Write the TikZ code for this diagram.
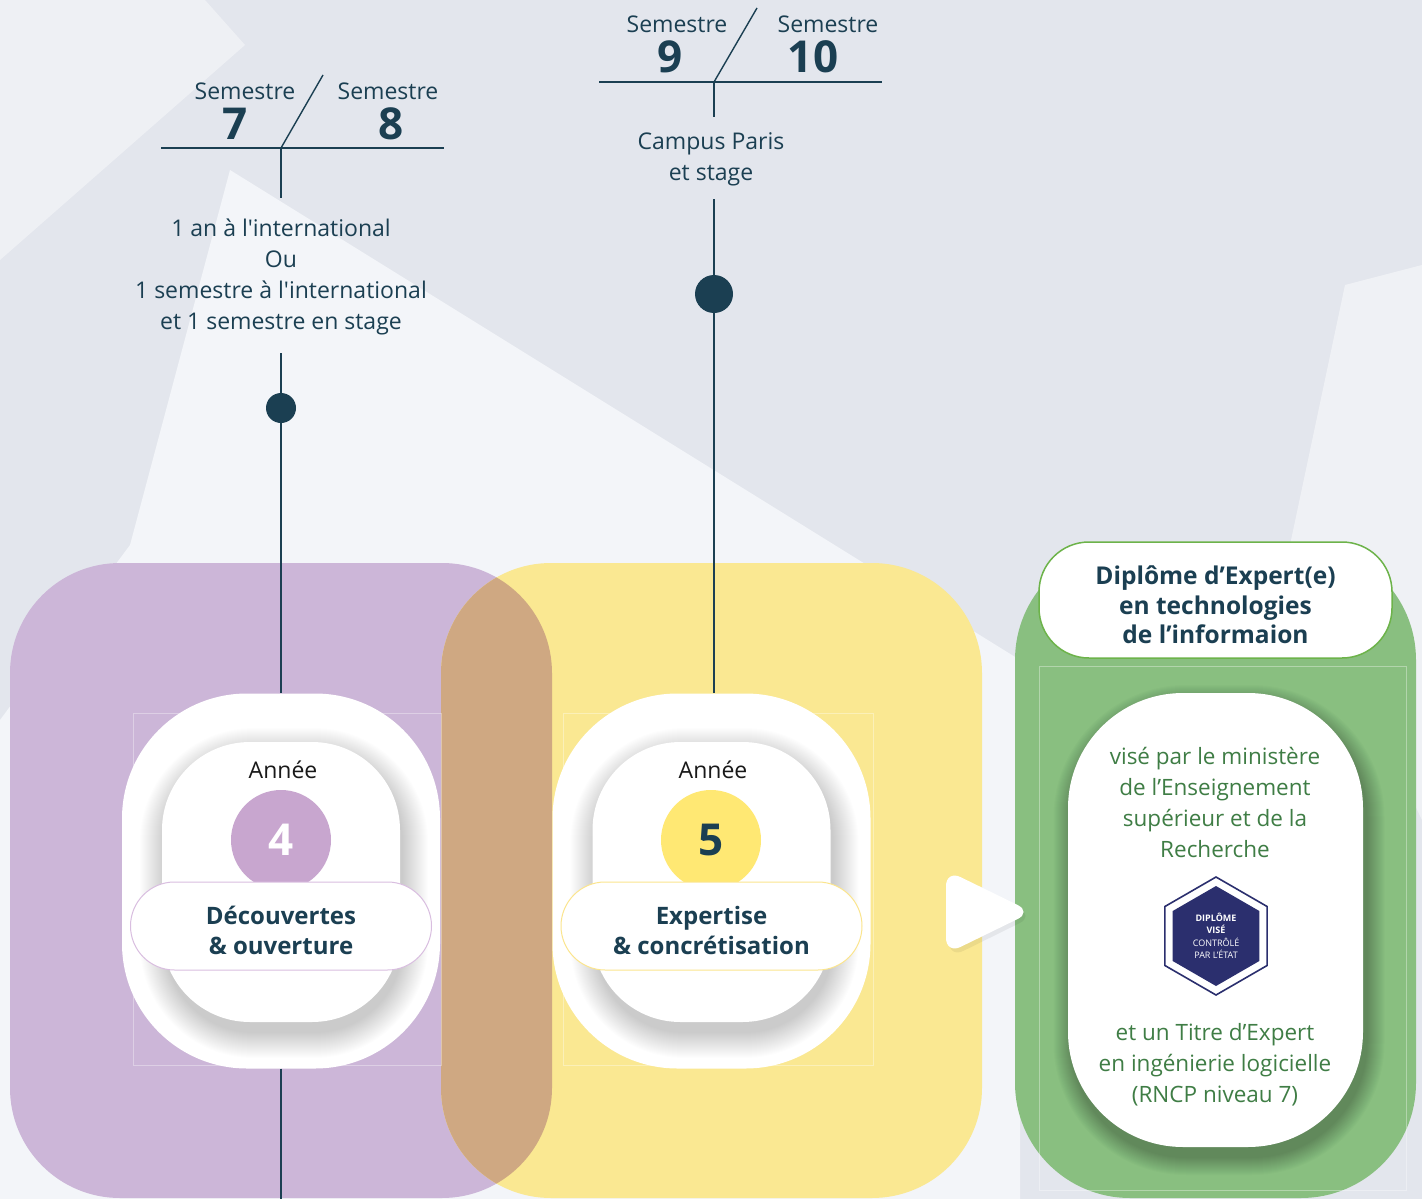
\documentclass[tikz,border=0pt]{standalone}
\usepackage{fontspec}
\setmainfont{Open Sans}[Ligatures=TeXOff]
\usetikzlibrary{positioning,shapes.geometric}
\definecolor{ink}{HTML}{1B3F52}
\definecolor{bgbase}{HTML}{E3E6ED}
\definecolor{bglight}{HTML}{F3F5F9}
\definecolor{purp}{HTML}{CCB6D8}
\definecolor{purpdot}{HTML}{C8A6CF}
\definecolor{purpline}{HTML}{D9BEE0}
\definecolor{yel}{HTML}{FAE892}
\definecolor{yeldot}{HTML}{FFE873}
\definecolor{yelline}{HTML}{FBE58E}
\definecolor{mix}{HTML}{CFA882}
\definecolor{grn}{HTML}{89BF80}
\definecolor{grnline}{HTML}{6DB34A}
\definecolor{grntext}{HTML}{3F7D45}
\definecolor{navy}{HTML}{2B2F6E}
\begin{document}
\begin{tikzpicture}[x=1pt,y=-1pt,
  rule/.style={draw=ink,line width=2pt},
  card/.style={fill=white,rounded corners=125pt,minimum width=318pt,minimum height=375pt,inner sep=0pt},
  innercard/.style={fill=white,rounded corners=88pt,minimum width=238pt,minimum height=280pt,inner sep=0pt},
  yearnum/.style={circle,minimum size=100pt,inner sep=0pt,font=\fontsize{44}{44}\selectfont\bfseries},
  pill/.style={fill=white,rounded corners=44pt,minimum width=301pt,minimum height=88pt,line width=1pt},
  pilltext/.style={align=center,text=ink,font=\fontsize{24}{30}\selectfont\bfseries},
  annee/.style={text=black!90,font=\fontsize{23}{23}\selectfont},
  sem/.style={text=ink,font=\fontsize{23}{23}\selectfont},
  semnum/.style={text=ink,font=\fontsize{44}{44}\selectfont\bfseries},
  info/.style={text=ink,align=center,font=\fontsize{23}{31}\selectfont},
  dot/.style={circle,fill=ink,inner sep=0pt},
  greentext/.style={text=grntext,align=center,font=\fontsize{22.5}{31}\selectfont},
  faint/.style={draw=white,opacity=.35,line width=.8pt}]

% background
\fill[bgbase] (0,0) rectangle (1422,1199);
\fill[white,opacity=.4] (0,0) -- (205,0) -- (245,45) -- (0,260) -- cycle;
\fill[bglight] (230,170) -- (1020,660) -- (1020,1199) -- (0,1199) -- (0,720) -- (130,545) -- cycle;
\fill[white,opacity=.45] (1345,285) -- (1422,265) -- (1422,820) -- (1290,545) -- cycle;
\useasboundingbox (0,0) rectangle (1422,1199);

% panels
\fill[purp,rounded corners=110pt] (10,563) rectangle (552,1198);
\fill[yel,rounded corners=110pt] (441,563) rectangle (982,1198);
\begin{scope}
  \clip[rounded corners=110pt] (10,563) rectangle (552,1198);
  \fill[mix,rounded corners=110pt] (441,563) rectangle (982,1198);
\end{scope}
\fill[grn,rounded corners=115pt] (1015,545) rectangle (1416,1198);
\draw[faint] (133,713) rectangle (441,1065);
\draw[faint] (563,713) rectangle (873,1065);
\draw[faint] (1039,666) rectangle (1406,1190);

% year 4
\node[card] (card4) at (281,881) {};
\foreach \k in {1,...,26}
  \node[innercard,fill=black,opacity=.0075,minimum width={236+2*\k},minimum height={278+2*\k},rounded corners={88+\k}] at (284,893) {};
\node[innercard] (in4) at (281,882) {};
\node[annee] (a4) at (283,770) {Année};
\node[yearnum,fill=purpdot,text=white] (n4) at (281,840) {4};
\node[pill,draw=purpline] (p4) at (281,926) {};
\node[pilltext] (p4t) at (281,930) {Découvertes\\\& ouverture};

% year 5
\node[card] (card5) at (711.5,881) {};
\foreach \k in {1,...,26}
  \node[innercard,fill=black,opacity=.0075,minimum width={236+2*\k},minimum height={278+2*\k},rounded corners={88+\k}] at (714.5,893) {};
\node[innercard] (in5) at (711.5,882) {};
\node[annee] (a5) at (713,770) {Année};
\node[yearnum,fill=yeldot,text=ink] (n5) at (711,840) {5};
\node[pill,draw=yelline] (p5) at (711.5,926) {};
\node[pilltext] (p5t) at (711.5,930) {Expertise\\\& concrétisation};

% semestres 7 / 8
\coordinate (l78) at (161,148);
\coordinate (r78) at (444,148);
\coordinate (j78) at (281,148);
\coordinate (s78) at (323,75);
\coordinate (e78) at (281,198);
\coordinate (f78) at (281,353);
\coordinate (b78) at (281,1199);
\draw[ink,line width=2.2pt] (l78) -- (r78);
\draw[ink,line width=1.4pt] (j78) -- (s78);
\draw[ink,line width=1.4pt] (j78) -- (e78);
\node[sem] (sem7) at (245,91) {Semestre};
\node[sem] (sem8) at (388,91) {Semestre};
\node[semnum] (num7) at (235,124) {7};
\node[semnum] (num8) at (391,124) {8};
\node[info] (txt78) at (281,277) {1 an à l'international\\Ou\\1 semestre à l'international\\et 1 semestre en stage};
\draw[rule] (f78) -- (card4.north);
\draw[rule] (card4.south) -- (b78);
\node[dot,minimum size=30pt] (d78) at (281,408) {};

% semestres 9 / 10
\coordinate (l910) at (599,82);
\coordinate (r910) at (882,82);
\coordinate (j910) at (714,82);
\coordinate (s910) at (757,8);
\coordinate (e910) at (714,117);
\coordinate (f910) at (714,199);
\draw[ink,line width=2.2pt] (l910) -- (r910);
\draw[ink,line width=1.4pt] (j910) -- (s910);
\draw[ink,line width=1.4pt] (j910) -- (e910);
\node[sem] (sem9) at (677,24) {Semestre};
\node[sem] (sem10) at (828,24) {Semestre};
\node[semnum] (num9) at (670,57) {9};
\node[semnum] (num10) at (813,57) {10};
\node[info] (txt910) at (711,159) {Campus Paris\\et stage};
\draw[rule] (f910) -- (f910 |- card5.north);
\node[dot,minimum size=38pt] (d910) at (714,294) {};

% arrow
\fill[black,opacity=.06,rounded corners=16pt] (949,874) -- (1034,916) -- (949,958) -- cycle;
\fill[white,rounded corners=16pt] (946,870) -- (1032,912) -- (946,954) -- cycle;

% diplome
\foreach \k in {1,...,18}
  \node[fill=black,opacity=.015,rounded corners={115+\k},minimum width={295+2*\k},minimum height={454+2*\k}] at (1219,930) {};
\node[fill=white,rounded corners=115pt,minimum width=295pt,minimum height=454pt,inner sep=0pt] (vis) at (1215.5,920) {};
\node[fill=white,draw=grnline,line width=1.5pt,rounded corners=50pt,minimum width=353pt,minimum height=116pt] (dip) at (1215.5,600) {};
\node[align=center,text=ink,font=\fontsize{24.5}{29.5}\selectfont\bfseries] (diptxt) at (1215.5,605) {Diplôme d’Expert(e)\\en technologies\\de l’informaion};
\node[greentext] (vtxt) at (1215,802) {visé par le ministère\\de l’Enseignement\\supérieur et de la\\Recherche};
\node[regular polygon,regular polygon sides=6,shape border rotate=30,minimum size=118pt,inner sep=0pt,fill=white,draw=navy,line width=1.6pt] (hexo) at (1216,936) {};
\node[regular polygon,regular polygon sides=6,shape border rotate=30,minimum size=100pt,inner sep=0pt,fill=navy] (hexi) at (1216,936) {};
\node[text=white,align=center,font=\fontsize{9}{12.5}\selectfont] (badge) at (1216,936) {\textbf{DIPLÔME}\\\textbf{VISÉ}\\CONTRÔLÉ\\PAR L’ÉTAT};
\node[greentext] (ttxt) at (1215,1065) {et un Titre d’Expert\\en ingénierie logicielle\\(RNCP niveau 7)};
\end{tikzpicture}
\end{document}
